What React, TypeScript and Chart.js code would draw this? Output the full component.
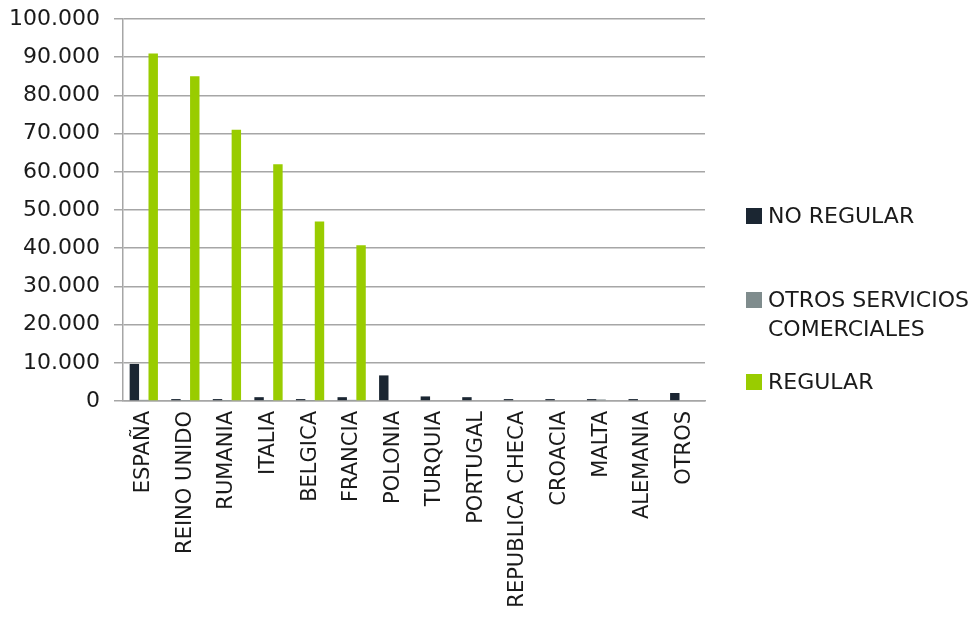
import React, { useEffect, useRef } from "react";
import { Chart, registerables } from "chart.js";

Chart.register(...registerables);

const categories = [
  "ESPAÑA", "REINO UNIDO", "RUMANIA", "ITALIA", "BELGICA", "FRANCIA", "POLONIA",
  "TURQUIA", "PORTUGAL", "REPUBLICA CHECA", "CROACIA", "MALTA", "ALEMANIA", "OTROS",
];
const noRegular = [9700, 500, 500, 1000, 500, 1000, 6700, 1200, 1000, 500, 500, 500, 500, 2100];
const otrosServicios = [300, 100, 100, 100, 100, 300, 0, 0, 0, 0, 0, 400, 0, 0];
const regular = [91000, 85000, 71000, 62000, 47000, 40800, 0, 0, 0, 0, 0, 0, 0, 0];
const seriesNames = ["NO REGULAR", "OTROS SERVICIOS COMERCIALES", "REGULAR"];
const seriesColors = ["#1b2632", "#7f8c8d", "#99cc00"];

const FONT = "'DejaVu Sans', sans-serif";
const TEXT = "#1a1a1a";
const GRID = "#a6a6a6";

function fmt(v: number): string {
  return String(Math.round(v)).replace(/\B(?=(\d{3})+(?!\d))/g, ".");
}

export default function App() {
  const ref = useRef<HTMLCanvasElement>(null);
  useEffect(() => {
    if (!ref.current) return;
    const chart = new Chart(ref.current, {
      type: "bar",
      data: {
        labels: categories,
        datasets: [
          { label: seriesNames[0], data: noRegular, backgroundColor: seriesColors[0] },
          { label: seriesNames[1], data: otrosServicios, backgroundColor: seriesColors[1] },
          { label: seriesNames[2], data: regular, backgroundColor: seriesColors[2] },
        ],
      },
      options: {
        animation: false,
        responsive: false,
        maintainAspectRatio: false,
        layout: { padding: { top: 19, right: 268, left: 0, bottom: 0 } },
        datasets: { bar: { categoryPercentage: 0.68, barPercentage: 1.0 } },
        plugins: { legend: { display: false }, tooltip: { enabled: false } },
        scales: {
          x: {
            grid: { display: false, drawTicks: false },
            border: { color: GRID, width: 1.5 },
            ticks: {
              minRotation: 90,
              maxRotation: 90,
              autoSkip: false,
              padding: 10,
              color: TEXT,
              font: { family: FONT, size: 21 },
            },
            afterFit: (s: any) => {
              s.height = 224;
              s.paddingLeft = 0;
              s.paddingRight = 0;
              s.paddingTop = 0;
              s.paddingBottom = 0;
            },
          },
          y: {
            min: 0,
            max: 100000,
            grid: { color: GRID, lineWidth: 1.5, tickLength: 9 },
            border: { color: GRID, width: 1.5 },
            ticks: {
              stepSize: 10000,
              padding: 14,
              color: TEXT,
              font: { family: FONT, size: 22 },
              callback: (v: any) => fmt(Number(v)),
            },
            afterFit: (s: any) => {
              s.width = 123;
              s.paddingTop = 0;
              s.paddingBottom = 0;
            },
          },
        },
      },
    });
    return () => chart.destroy();
  }, []);

  const legendText: React.CSSProperties = {
    position: "absolute",
    fontFamily: FONT,
    fontSize: 22,
    color: TEXT,
    lineHeight: "29px",
    whiteSpace: "nowrap",
  };
  const box = (c: string, top: number): React.CSSProperties => ({
    position: "absolute",
    left: 746,
    top,
    width: 16,
    height: 16,
    background: c,
  });

  return (
    <div style={{ position: "absolute", left: 0, top: 0, width: 973, height: 625, background: "#fff" }}>
      <canvas ref={ref} width={973} height={625} style={{ position: "absolute", left: 0, top: 0 }} />
      <div style={box(seriesColors[0], 208)} />
      <div style={{ ...legendText, left: 768, top: 201 }}>{seriesNames[0]}</div>
      <div style={box(seriesColors[1], 292)} />
      <div style={{ ...legendText, left: 768, top: 285 }}>
        OTROS SERVICIOS
        <br />
        COMERCIALES
      </div>
      <div style={box(seriesColors[2], 374)} />
      <div style={{ ...legendText, left: 768, top: 367 }}>{seriesNames[2]}</div>
    </div>
  );
}
